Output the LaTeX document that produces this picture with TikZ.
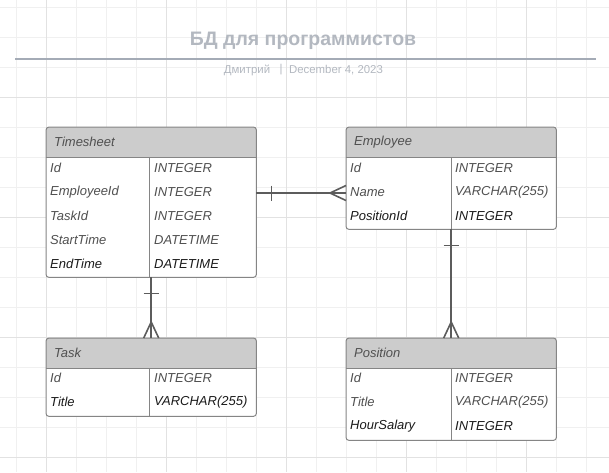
\documentclass[tikz,border=0pt]{standalone}
\usepackage{fontspec}
\setmainfont{Liberation Sans}
\usetikzlibrary{calc,positioning}

\definecolor{gridminor}{HTML}{F0F0F0}
\definecolor{gridmajor}{HTML}{E2E2E2}
\definecolor{titlegray}{HTML}{B3B8C0}
\definecolor{rulegray}{HTML}{A4ABB6}
\definecolor{tblborder}{HTML}{858585}
\definecolor{headfill}{HTML}{CCCCCC}
\definecolor{rowtext}{HTML}{505050}
\definecolor{rowdark}{HTML}{1A1A1A}
\definecolor{relline}{HTML}{5C5C5C}

\tikzset{
	tbl/.style={fill=white, anchor=north west, inner sep=0pt, minimum width=210pt, rounded corners=3pt},
	tblline/.style={draw=tblborder, line width=1pt},
	cell/.style={anchor=west, inner sep=0pt, font=\fontsize{13}{15}\selectfont\itshape, text=rowtext},
	lastcell/.style={cell, text=rowdark},
	headtext/.style={cell, text=rowtext},
	rel/.style={draw=relline, line width=1.6pt},
}

\begin{document}
\begin{tikzpicture}[x=1pt,y=-1pt]
	\useasboundingbox (0,0) rectangle (609,472);
	% grid
	\foreach \x in {16,46,...,606} \draw[gridminor, line width=0.8pt] (\x,0) -- (\x,472);
	\foreach \y in {7,37,...,467} \draw[gridminor, line width=0.8pt] (0,\y) -- (609,\y);
	\foreach \x in {46,166,...,526} \draw[gridmajor, line width=0.8pt] (\x,0) -- (\x,472);
	\foreach \y in {97,217,337,457} \draw[gridmajor, line width=0.8pt] (0,\y) -- (609,\y);

	% title block
	\node[text=titlegray, font=\fontsize{19.5}{22}\selectfont\bfseries] (title) at (303,41) {БД для программистов};
	\draw[rulegray, line width=1.6pt] (15,59) -- (596,59);
	\node[text=titlegray, font=\fontsize{11.4}{13}\selectfont] (author) at (247,70) {Дмитрий};
	\node[text=titlegray, font=\fontsize{11.4}{13}\selectfont] (sep) at (281,70) {|};
	\node[text=titlegray, font=\fontsize{11.4}{13}\selectfont] (date) at (336,70) {December 4, 2023};

	% Timesheet
	\node[tbl, minimum height=150pt] (timesheet) at (46,127) {};
	\fill[headfill, rounded corners=3pt] (timesheet.north west) rectangle ($(timesheet.north east)+(0,30)$);
	\fill[headfill] ($(timesheet.north west)+(0,10)$) rectangle ($(timesheet.north east)+(0,30)$);
	\draw[tblline] ($(timesheet.north west)+(0,30)$) -- ($(timesheet.north east)+(0,30)$);
	\draw[tblline] (149.5,157) -- (149.5,277);
	\draw[tblline, rounded corners=3pt] (timesheet.north west) rectangle (timesheet.south east);
	\node[headtext] (ts-h) at (54,142) {Timesheet};
	\foreach \name/\type [count=\i] in {Id/INTEGER, EmployeeId/INTEGER, TaskId/INTEGER, StartTime/DATETIME}{
		\node[cell] (ts-\i) at (50,144+24*\i) {\name};
		\node[cell] (ts-t\i) at (154,144+24*\i) {\type};
	}
	\node[lastcell] (ts-5) at (50,264) {EndTime};
	\node[lastcell] (ts-t5) at (154,264) {DATETIME};

	% Employee
	\node[tbl, minimum height=102pt] (employee) at (346,127) {};
	\fill[headfill, rounded corners=3pt] (employee.north west) rectangle ($(employee.north east)+(0,30)$);
	\fill[headfill] ($(employee.north west)+(0,10)$) rectangle ($(employee.north east)+(0,30)$);
	\draw[tblline] ($(employee.north west)+(0,30)$) -- ($(employee.north east)+(0,30)$);
	\draw[tblline] (451,157) -- (451,229);
	\draw[tblline, rounded corners=3pt] (employee.north west) rectangle (employee.south east);
	\node[headtext] (em-h) at (354,142) {Employee};
	\foreach \name/\type [count=\i] in {Id/INTEGER, Name/VARCHAR(255)}{
		\node[cell] (em-\i) at (350,144+24*\i) {\name};
		\node[cell] (em-t\i) at (455,144+24*\i) {\type};
	}
	\node[lastcell] (em-3) at (350,216) {PositionId};
	\node[lastcell] (em-t3) at (455,216) {INTEGER};

	% Task
	\node[tbl, minimum height=78pt] (task) at (46,338) {};
	\fill[headfill, rounded corners=3pt] (task.north west) rectangle ($(task.north east)+(0,30)$);
	\fill[headfill] ($(task.north west)+(0,10)$) rectangle ($(task.north east)+(0,30)$);
	\draw[tblline] ($(task.north west)+(0,30)$) -- ($(task.north east)+(0,30)$);
	\draw[tblline] (149.5,368) -- (149.5,416);
	\draw[tblline, rounded corners=3pt] (task.north west) rectangle (task.south east);
	\node[headtext] (tk-h) at (54,353) {Task};
	\node[cell] (tk-1) at (50,378) {Id};
	\node[cell] (tk-t1) at (154,378) {INTEGER};
	\node[lastcell] (tk-2) at (50,402) {Title};
	\node[lastcell] (tk-t2) at (154,402) {VARCHAR(255)};

	% Position
	\node[tbl, minimum height=102pt] (position) at (346,338) {};
	\fill[headfill, rounded corners=3pt] (position.north west) rectangle ($(position.north east)+(0,30)$);
	\fill[headfill] ($(position.north west)+(0,10)$) rectangle ($(position.north east)+(0,30)$);
	\draw[tblline] ($(position.north west)+(0,30)$) -- ($(position.north east)+(0,30)$);
	\draw[tblline] (451,368) -- (451,440);
	\draw[tblline, rounded corners=3pt] (position.north west) rectangle (position.south east);
	\node[headtext] (ps-h) at (354,353) {Position};
	\foreach \name/\type [count=\i] in {Id/INTEGER, Title/VARCHAR(255)}{
		\node[cell] (ps-\i) at (350,354+24*\i) {\name};
		\node[cell] (ps-t\i) at (455,354+24*\i) {\type};
	}
	\node[lastcell] (ps-3) at (350,426) {HourSalary};
	\node[lastcell] (ps-t3) at (455,426) {INTEGER};

	% relations: one bar at the "one" end, crow's foot at the "many" end
	\coordinate (a) at ($(timesheet.east |- em-2)+(0,1)$);
	\coordinate (b) at ($(employee.west |- em-2)+(0,1)$);
	\draw[rel] (a) -- (b);
	\draw[rel] ($(a)+(15,-7.5)$) -- ($(a)+(15,7.5)$);
	\draw[rel] ($(b)+(-16,0)$) -- ($(b)+(0,-7.5)$);
	\draw[rel] ($(b)+(-16,0)$) -- ($(b)+(0,7.5)$);

	\draw[rel] (timesheet.south) -- (task.north);
	\draw[rel] ($(timesheet.south)+(-7.5,16)$) -- ($(timesheet.south)+(7.5,16)$);
	\draw[rel] ($(task.north)+(0,-16)$) -- ($(task.north)+(-7.5,0)$);
	\draw[rel] ($(task.north)+(0,-16)$) -- ($(task.north)+(7.5,0)$);

	\draw[rel] (employee.south) -- (position.north);
	\draw[rel] ($(employee.south)+(-7.5,16)$) -- ($(employee.south)+(7.5,16)$);
	\draw[rel] ($(position.north)+(0,-16)$) -- ($(position.north)+(-7.5,0)$);
	\draw[rel] ($(position.north)+(0,-16)$) -- ($(position.north)+(7.5,0)$);
\end{tikzpicture}
\end{document}
